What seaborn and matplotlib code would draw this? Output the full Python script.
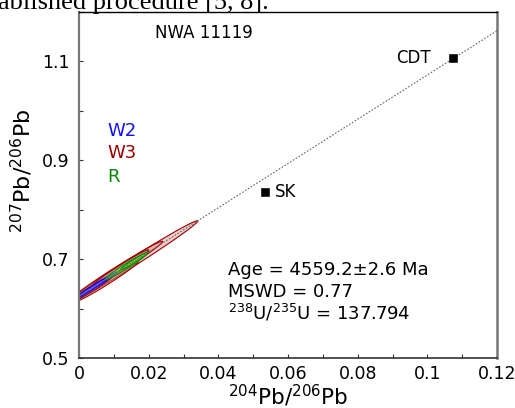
import numpy as np
import pandas as pd
import seaborn as sns
import matplotlib.pyplot as plt
from matplotlib.patches import Polygon

# error ellipse data: 204Pb/206Pb (x), 207Pb/206Pb (y), 1-sigma errors, error correlation
w3_x = [0.0145, 0.0110, 0.0080, 0.0120, 0.0040]
w3_sx = [0.0098, 0.0065, 0.0045, 0.0040, 0.0030]
w3_y = [0.6900, 0.6780, 0.6550, 0.6830, 0.6420]
w3_sy = [0.0439, 0.0291, 0.0202, 0.0180, 0.0134]
w3_rho = [0.9934, 0.9903, 0.9844, 0.9856, 0.9737]

w2_x = [0.0050, 0.0030]
w2_sx = [0.0030, 0.0035]
w2_y = [0.6474, 0.6384]
w2_sy = [0.0134, 0.0157]
w2_rho = [0.9888, 0.9954]

r_x = [0.0135, 0.0160]
r_sx = [0.0030, 0.0020]
r_y = [0.6855, 0.6967]
r_sy = [0.0134, 0.0090]
r_rho = [0.9737, 0.9750]

# common Pb reference compositions
ref_names = ["SK", "CDT"]
ref_x = [0.0535, 0.10745]
ref_y = [0.836, 1.106]

# isochron (radiogenic intercept and common Pb end member CDT)
iso_intercept = 0.625
iso_xrange = [0.0, 0.12]

x_ticks = [0, 0.02, 0.04, 0.06, 0.08, 0.1, 0.12]
x_ticklabels = ["0", "0.02", "0.04", "0.06", "0.08", "0.1", "0.12"]
y_ticks = [0.5, 0.7, 0.9, 1.1]
y_ticklabels = ["0.5", "0.7", "0.9", "1.1"]


def ellipse_xy(x, sx, y, sy, rho, k=2.0, n=200):
    cov = np.array([[sx * sx, rho * sx * sy], [rho * sx * sy, sy * sy]])
    vals, vecs = np.linalg.eigh(cov)
    t = np.linspace(0, 2 * np.pi, n)
    circ = np.vstack([np.cos(t), np.sin(t)]) * (k * np.sqrt(vals))[:, None]
    pts = vecs @ circ
    return np.column_stack([pts[0] + x, pts[1] + y])


sns.set_theme(style="ticks")
plt.rcParams["font.family"] = ["DejaVu Sans"]
plt.rcParams["mathtext.fontset"] = "dejavusans"
plt.rcParams["text.color"] = "black"
plt.rcParams["axes.labelcolor"] = "black"
plt.rcParams["xtick.labelcolor"] = "black"
plt.rcParams["ytick.labelcolor"] = "black"

fig = plt.figure(figsize=(5.15, 4.08), dpi=100)
ax = fig.add_axes([0.1534, 0.1225, 0.8117, 0.848])

slope = (ref_y[1] - iso_intercept) / ref_x[1]
iso = pd.DataFrame({"x": iso_xrange,
                    "y": [iso_intercept + slope * v for v in iso_xrange]})

groups = [
    (w3_x, w3_sx, w3_y, w3_sy, w3_rho, "#9b0000", (0.88, 0.55, 0.55, 0.45)),
    (w2_x, w2_sx, w2_y, w2_sy, w2_rho, "#1010ff", (0.45, 0.45, 1.0, 0.5)),
    (r_x, r_sx, r_y, r_sy, r_rho, "#0a8a0a", (0.45, 0.85, 0.2, 0.6)),
]
z = 2
for gx, gsx, gy, gsy, grho, ec, fc in groups:
    for i in range(len(gx)):
        pts = ellipse_xy(gx[i], gsx[i], gy[i], gsy[i], grho[i])
        ax.add_patch(Polygon(pts, closed=True, facecolor=fc, edgecolor=ec,
                             linewidth=0.8, zorder=z))
        z += 0.01

sns.lineplot(data=iso, x="x", y="y", ax=ax, color="#666666", linewidth=0.8,
             linestyle=(0, (1.5, 1.5)), zorder=4)

refs = pd.DataFrame({"x": ref_x, "y": ref_y, "name": ref_names})
sns.scatterplot(data=refs, x="x", y="y", ax=ax, marker="s", color="black",
                s=28, edgecolor="black", zorder=5)
ax.annotate("SK", (ref_x[0], ref_y[0]), xytext=(7, 0), textcoords="offset points",
            ha="left", va="center", fontsize=12)
ax.annotate("CDT", (ref_x[1], ref_y[1]), xytext=(-16, 0), textcoords="offset points",
            ha="right", va="center", fontsize=12)

ax.set_xlim(0, 0.12)
ax.set_ylim(0.5, 1.2)
ax.set_xticks(np.arange(0, 0.1201, 0.01), minor=True)
ax.set_yticks(np.arange(0.5, 1.201, 0.1), minor=True)
ax.set_xticks(x_ticks)
ax.set_xticklabels(x_ticklabels)
ax.set_yticks(y_ticks)
ax.set_yticklabels(y_ticklabels)
ax.tick_params(which="both", direction="in", length=3, width=0.8, color="#333333",
               labelsize=12.5, top=False, right=False)
ax.tick_params(axis="y", which="both", pad=7)
ax.tick_params(axis="x", which="both", pad=5)

ax.set_xlabel("$^{204}$Pb/$^{206}$Pb", fontsize=15.5, labelpad=0)
ax.set_ylabel("$^{207}$Pb/$^{206}$Pb", fontsize=16)
ax.yaxis.set_label_coords(-0.105, 0.54)

for side, col, lw in [("left", "#777777", 1.6), ("right", "#777777", 1.8),
                      ("top", "black", 1.0), ("bottom", "#333333", 1.2)]:
    ax.spines[side].set_visible(True)
    ax.spines[side].set_color(col)
    ax.spines[side].set_linewidth(lw)

ax.text(0.182, 0.939, "NWA 11119", transform=ax.transAxes, fontsize=12,
        va="center", ha="left")
ax.text(0.067, 0.656, "W2", transform=ax.transAxes, fontsize=13, color="#1010ff",
        va="center")
ax.text(0.067, 0.592, "W3", transform=ax.transAxes, fontsize=13, color="#9b0000",
        va="center")
ax.text(0.067, 0.523, "R", transform=ax.transAxes, fontsize=13, color="#0a8a0a",
        va="center")

ax.text(0.356, 0.254, "Age = 4559.2\u00b12.6 Ma", transform=ax.transAxes,
        fontsize=13, va="center")
ax.text(0.356, 0.191, "MSWD = 0.77", transform=ax.transAxes, fontsize=13,
        va="center")
ax.text(0.356, 0.130, "$^{238}$U/$^{235}$U = 137.794", transform=ax.transAxes,
        fontsize=13, va="center")

# cropped line of the surrounding document text
fig.text(-0.004, 1 - 9 / 408, "ablished procedure [5, 8].", family="Liberation Serif",
         fontsize=19, va="baseline", ha="left")

fig.savefig("out.png", dpi=100)
